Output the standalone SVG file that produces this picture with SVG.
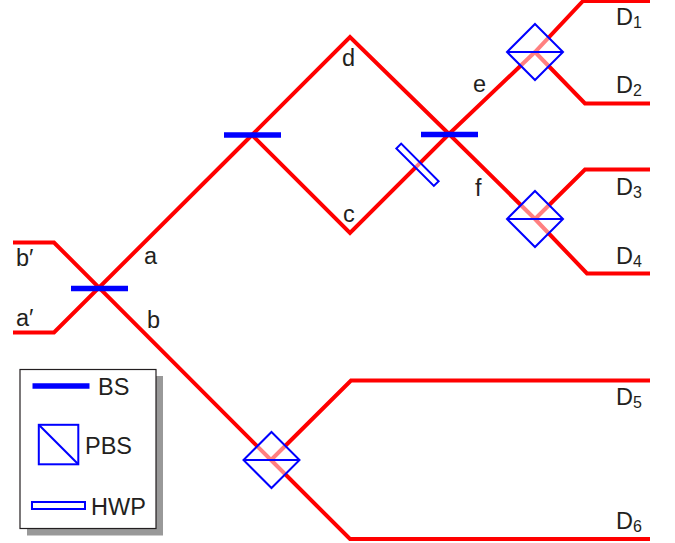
<svg xmlns="http://www.w3.org/2000/svg" width="675" height="543" viewBox="0 0 675 543">
<style>
.beam{fill:none;stroke:#ff0000;stroke-width:4;stroke-linejoin:miter}
.bs{stroke:#0000ff;stroke-width:5.5;fill:none}
.pbs{fill:#fff;fill-opacity:.5;stroke:#0000ff;stroke-width:2}
.ln{stroke:#0000ff;stroke-width:2;fill:none}
text{font-family:"Liberation Sans",Arial,sans-serif;font-size:23.500px;fill:#231f20}
.sub{font-size:16px}
</style>
<defs>
<g id="cube">
<path class="pbs" d="M0 -28L28 0L0 28L-28 0Z"/>
<path class="ln" d="M-28 0H28"/>
</g>
</defs>
<g id="connectors">
<path class="beam" d="M13 332.500H54L252 135L350 37L449 134L535 52L583 1H650"/>
<path class="beam" d="M13 242.500H54L271 460L350 539H650"/>
<path class="beam" d="M252 135L350 233L449 134L535 219L587 273.500H650"/>
<path class="beam" d="M535 52L585 103.500H650"/>
<path class="beam" d="M535 219L585 169.500H650"/>
<path class="beam" d="M271 460L351 380.500H650"/>
</g>
<g id="bs1"><path class="bs" d="M71 288.500H128"/></g>
<g id="bs2"><path class="bs" d="M224 135H281"/></g>
<g id="bs3"><path class="bs" d="M421 134.500H478"/></g>
<g id="hwp"><rect class="pbs" x="-26.500" y="-3.400" width="53" height="6.800" transform="translate(417.500 164.800) rotate(45)"/></g>
<g id="pbs1"><use href="#cube" x="535" y="52"/></g>
<g id="pbs2"><use href="#cube" x="535" y="219"/></g>
<g id="pbs3"><use href="#cube" x="271.500" y="460"/></g>
<g id="labels">
<text x="16" y="266">b′</text>
<text x="16" y="326">a′</text>
<text x="144" y="264">a</text>
<text x="147" y="328">b</text>
<text x="342" y="66">d</text>
<text x="343" y="222">c</text>
<text x="473" y="92">e</text>
<text x="475" y="196">f</text>
<text x="616" y="25">D<tspan class="sub" dy="3">1</tspan></text>
<text x="616" y="93">D<tspan class="sub" dy="3">2</tspan></text>
<text x="616" y="195">D<tspan class="sub" dy="3">3</tspan></text>
<text x="616" y="264">D<tspan class="sub" dy="3">4</tspan></text>
<text x="616" y="405">D<tspan class="sub" dy="3">5</tspan></text>
<text x="616" y="529">D<tspan class="sub" dy="3">6</tspan></text>
</g>
<g id="legend">
<rect x="27" y="376" width="136" height="159.500" fill="#999"/>
<rect x="20" y="369.500" width="136" height="159" fill="#fff" stroke="#231f20" stroke-width="1.200"/>
<path class="bs" d="M32.500 386H89.500"/>
<text x="98" y="395">BS</text>
<rect class="ln" x="38.800" y="424.800" width="39.500" height="39.500"/>
<path class="ln" d="M38.800 424.800L78.300 464.300"/>
<text x="85" y="454">PBS</text>
<rect class="ln" x="32" y="502" width="53" height="7"/>
<text x="91" y="515">HWP</text>
</g>
</svg>
